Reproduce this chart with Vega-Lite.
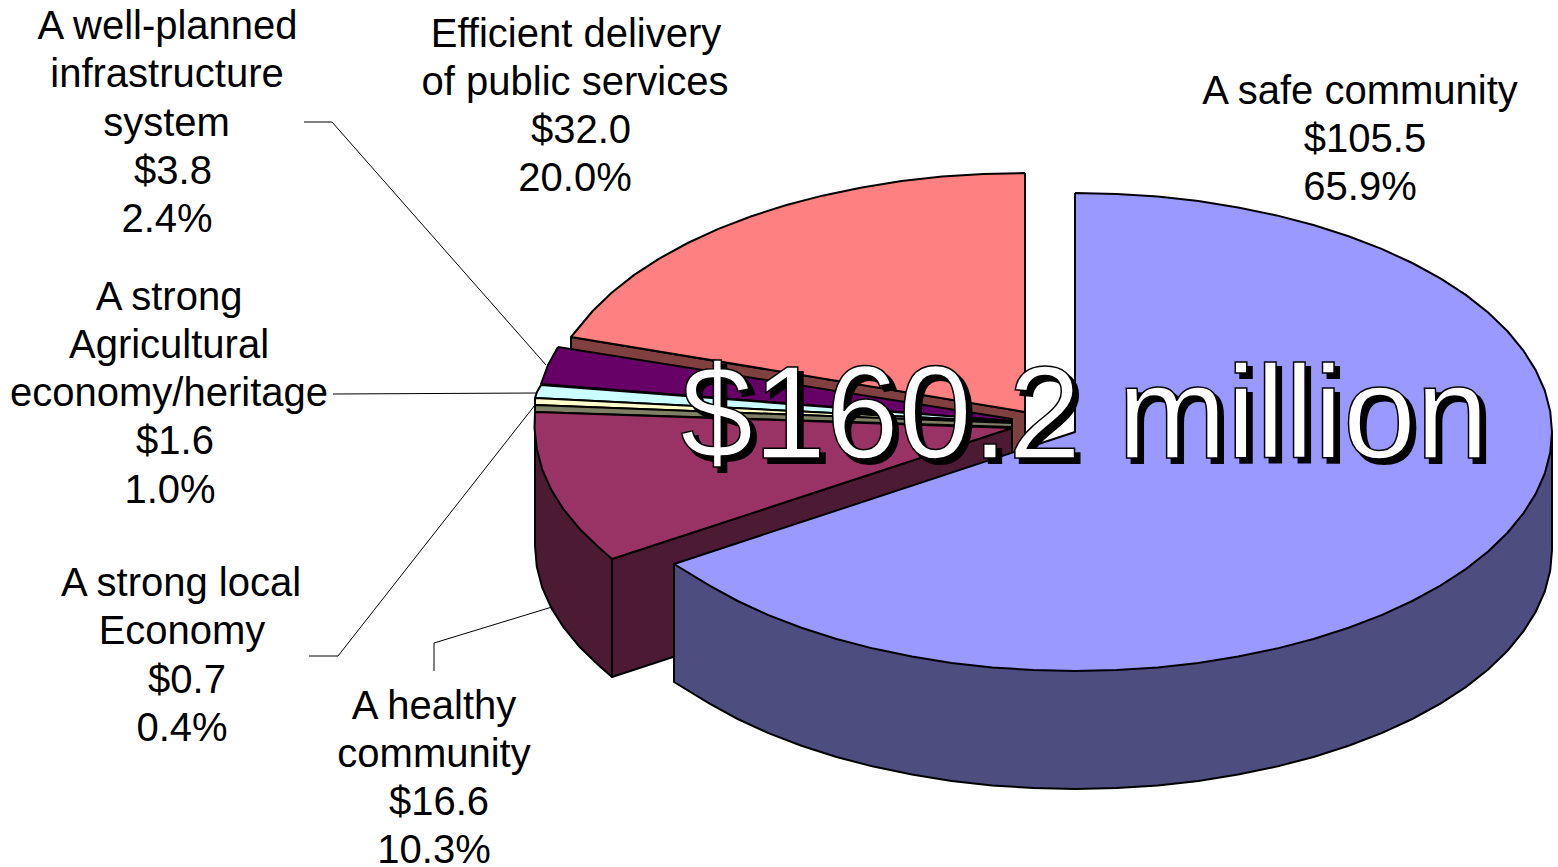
{"$schema":"https://vega.github.io/schema/vega-lite/v6.json","width":1558,"height":867,"padding":0,"autosize":{"type":"none"},"background":"white","view":{"stroke":null},
"datasets":{
"faces":[
{"p":"services wall","i":0,"x":571,"y":337},{"p":"services wall","i":1,"x":1025,"y":412},{"p":"services wall","i":2,"x":1025,"y":530},{"p":"services wall","i":3,"x":571,"y":455},{"p":"services wall","i":4,"x":571,"y":337},
{"p":"services","i":0,"x":1025,"y":173},{"p":"services","i":1,"x":983.4,"y":173.9},{"p":"services","i":2,"x":942.2,"y":176.6},{"p":"services","i":3,"x":901.6,"y":181.1},{"p":"services","i":4,"x":861.9,"y":187.4},{"p":"services","i":5,"x":823.4,"y":195.4},{"p":"services","i":6,"x":786.5,"y":205},{"p":"services","i":7,"x":751.4,"y":216.2},{"p":"services","i":8,"x":718.4,"y":228.9},{"p":"services","i":9,"x":687.7,"y":243},{"p":"services","i":10,"x":659.6,"y":258.4},{"p":"services","i":11,"x":634.2,"y":274.9},{"p":"services","i":12,"x":611.9,"y":292.5},{"p":"services","i":13,"x":592.7,"y":311},{"p":"services","i":14,"x":571,"y":337},{"p":"services","i":15,"x":1025,"y":412},{"p":"services","i":16,"x":1025,"y":173},
{"p":"infrastructure","i":0,"x":558,"y":347},{"p":"infrastructure","i":1,"x":548,"y":365},{"p":"infrastructure","i":2,"x":541,"y":384},{"p":"infrastructure","i":3,"x":1012,"y":421},{"p":"infrastructure","i":4,"x":1012,"y":419},{"p":"infrastructure","i":5,"x":558,"y":347},
{"p":"agriculture","i":0,"x":541,"y":385},{"p":"agriculture","i":1,"x":537,"y":392},{"p":"agriculture","i":2,"x":535,"y":398},{"p":"agriculture","i":3,"x":1012,"y":422},{"p":"agriculture","i":4,"x":1012,"y":421},{"p":"agriculture","i":5,"x":541,"y":385},
{"p":"economy","i":0,"x":535,"y":398},{"p":"economy","i":1,"x":535,"y":405},{"p":"economy","i":2,"x":1012,"y":423},{"p":"economy","i":3,"x":1012,"y":422},{"p":"economy","i":4,"x":535,"y":398},
{"p":"economy wall","i":0,"x":535,"y":405},{"p":"economy wall","i":1,"x":535,"y":412},{"p":"economy wall","i":2,"x":1012,"y":427},{"p":"economy wall","i":3,"x":1012,"y":423},{"p":"economy wall","i":4,"x":535,"y":405},
{"p":"healthy rim","i":0,"x":535,"y":428},{"p":"healthy rim","i":1,"x":535,"y":546},{"p":"healthy rim","i":2,"x":536.8,"y":566.8},{"p":"healthy rim","i":3,"x":542.2,"y":587.5},{"p":"healthy rim","i":4,"x":551.3,"y":607.9},{"p":"healthy rim","i":5,"x":563.8,"y":627.7},{"p":"healthy rim","i":6,"x":579.7,"y":647},{"p":"healthy rim","i":7,"x":598.9,"y":665.5},{"p":"healthy rim","i":8,"x":612,"y":677},{"p":"healthy rim","i":9,"x":612,"y":559},
{"p":"healthy wall","i":0,"x":612,"y":559},{"p":"healthy wall","i":1,"x":612,"y":677},{"p":"healthy wall","i":2,"x":1012,"y":546},{"p":"healthy wall","i":3,"x":1012,"y":428},{"p":"healthy wall","i":4,"x":612,"y":559},
{"p":"healthy","i":0,"x":535,"y":412},{"p":"healthy","i":1,"x":534.5,"y":428},{"p":"healthy","i":2,"x":536.8,"y":448.8},{"p":"healthy","i":3,"x":542.2,"y":469.5},{"p":"healthy","i":4,"x":551.3,"y":489.9},{"p":"healthy","i":5,"x":563.8,"y":509.7},{"p":"healthy","i":6,"x":579.7,"y":529},{"p":"healthy","i":7,"x":598.9,"y":547.5},{"p":"healthy","i":8,"x":612,"y":559},{"p":"healthy","i":9,"x":1012,"y":428},{"p":"healthy","i":10,"x":535,"y":412},
{"p":"safe rim","i":0,"x":674,"y":564},{"p":"safe rim","i":1,"x":674,"y":682},{"p":"safe rim","i":2,"x":709.6,"y":703.6},{"p":"safe rim","i":3,"x":737.7,"y":719},{"p":"safe rim","i":4,"x":768.4,"y":733.1},{"p":"safe rim","i":5,"x":801.4,"y":745.8},{"p":"safe rim","i":6,"x":836.5,"y":757},{"p":"safe rim","i":7,"x":873.4,"y":766.6},{"p":"safe rim","i":8,"x":911.9,"y":774.6},{"p":"safe rim","i":9,"x":951.6,"y":780.9},{"p":"safe rim","i":10,"x":992.2,"y":785.4},{"p":"safe rim","i":11,"x":1033.4,"y":788.1},{"p":"safe rim","i":12,"x":1075,"y":789},{"p":"safe rim","i":13,"x":1116.6,"y":788.1},{"p":"safe rim","i":14,"x":1157.8,"y":785.4},{"p":"safe rim","i":15,"x":1198.4,"y":780.9},{"p":"safe rim","i":16,"x":1238.1,"y":774.6},{"p":"safe rim","i":17,"x":1276.6,"y":766.6},{"p":"safe rim","i":18,"x":1313.5,"y":757},{"p":"safe rim","i":19,"x":1348.6,"y":745.8},{"p":"safe rim","i":20,"x":1381.6,"y":733.1},{"p":"safe rim","i":21,"x":1412.3,"y":719},{"p":"safe rim","i":22,"x":1440.4,"y":703.6},{"p":"safe rim","i":23,"x":1465.8,"y":687.1},{"p":"safe rim","i":24,"x":1488.1,"y":669.5},{"p":"safe rim","i":25,"x":1507.3,"y":651},{"p":"safe rim","i":26,"x":1523.2,"y":631.7},{"p":"safe rim","i":27,"x":1535.7,"y":611.9},{"p":"safe rim","i":28,"x":1544.8,"y":591.5},{"p":"safe rim","i":29,"x":1550.2,"y":570.8},{"p":"safe rim","i":30,"x":1552,"y":550},{"p":"safe rim","i":31,"x":1552,"y":432},
{"p":"safe","i":0,"x":1075,"y":193},{"p":"safe","i":1,"x":1116.6,"y":193.9},{"p":"safe","i":2,"x":1157.8,"y":196.6},{"p":"safe","i":3,"x":1198.4,"y":201.1},{"p":"safe","i":4,"x":1238.1,"y":207.4},{"p":"safe","i":5,"x":1276.6,"y":215.4},{"p":"safe","i":6,"x":1313.5,"y":225},{"p":"safe","i":7,"x":1348.6,"y":236.2},{"p":"safe","i":8,"x":1381.6,"y":248.9},{"p":"safe","i":9,"x":1412.3,"y":263},{"p":"safe","i":10,"x":1440.4,"y":278.4},{"p":"safe","i":11,"x":1465.8,"y":294.9},{"p":"safe","i":12,"x":1488.1,"y":312.5},{"p":"safe","i":13,"x":1507.3,"y":331},{"p":"safe","i":14,"x":1523.2,"y":350.3},{"p":"safe","i":15,"x":1535.7,"y":370.1},{"p":"safe","i":16,"x":1544.8,"y":390.5},{"p":"safe","i":17,"x":1550.2,"y":411.2},{"p":"safe","i":18,"x":1552,"y":432},{"p":"safe","i":19,"x":1550.2,"y":452.8},{"p":"safe","i":20,"x":1544.8,"y":473.5},{"p":"safe","i":21,"x":1535.7,"y":493.9},{"p":"safe","i":22,"x":1523.2,"y":513.7},{"p":"safe","i":23,"x":1507.3,"y":533},{"p":"safe","i":24,"x":1488.1,"y":551.5},{"p":"safe","i":25,"x":1465.8,"y":569.1},{"p":"safe","i":26,"x":1440.4,"y":585.6},{"p":"safe","i":27,"x":1412.3,"y":601},{"p":"safe","i":28,"x":1381.6,"y":615.1},{"p":"safe","i":29,"x":1348.6,"y":627.8},{"p":"safe","i":30,"x":1313.5,"y":639},{"p":"safe","i":31,"x":1276.6,"y":648.6},{"p":"safe","i":32,"x":1238.1,"y":656.6},{"p":"safe","i":33,"x":1198.4,"y":662.9},{"p":"safe","i":34,"x":1157.8,"y":667.4},{"p":"safe","i":35,"x":1116.6,"y":670.1},{"p":"safe","i":36,"x":1075,"y":671},{"p":"safe","i":37,"x":1033.4,"y":670.1},{"p":"safe","i":38,"x":992.2,"y":667.4},{"p":"safe","i":39,"x":951.6,"y":662.9},{"p":"safe","i":40,"x":911.9,"y":656.6},{"p":"safe","i":41,"x":873.4,"y":648.6},{"p":"safe","i":42,"x":836.5,"y":639},{"p":"safe","i":43,"x":801.4,"y":627.8},{"p":"safe","i":44,"x":768.4,"y":615.1},{"p":"safe","i":45,"x":737.7,"y":601},{"p":"safe","i":46,"x":709.6,"y":585.6},{"p":"safe","i":47,"x":674,"y":564},{"p":"safe","i":48,"x":1075,"y":432},{"p":"safe","i":49,"x":1075,"y":193}
],
"leaders":[
{"l":"a","i":0,"x":304,"y":122},{"l":"a","i":1,"x":332,"y":122},{"l":"a","i":2,"x":546,"y":365},
{"l":"b","i":0,"x":333,"y":394},{"l":"b","i":1,"x":537,"y":393},
{"l":"c","i":0,"x":309,"y":656},{"l":"c","i":1,"x":338,"y":656},{"l":"c","i":2,"x":535,"y":405},
{"l":"d","i":0,"x":434,"y":671},{"l":"d","i":1,"x":434,"y":643},{"l":"d","i":2,"x":552,"y":607}
],
"labels":[
{"t":"A well-planned","x":167.5,"y":39},{"t":"infrastructure","x":167,"y":87},{"t":"system","x":166.5,"y":136},{"t":"$3.8","x":173,"y":184},{"t":"2.4%","x":167,"y":232},
{"t":"Efficient delivery","x":576,"y":47},{"t":"of public services","x":575,"y":95},{"t":"$32.0","x":581,"y":143},{"t":"20.0%","x":575,"y":191},
{"t":"A safe community","x":1360,"y":104},{"t":"$105.5","x":1365,"y":152},{"t":"65.9%","x":1360,"y":200},
{"t":"A strong","x":169,"y":310},{"t":"Agricultural","x":169,"y":358},{"t":"economy/heritage","x":169,"y":406},{"t":"$1.6","x":175,"y":454},{"t":"1.0%","x":170,"y":503},
{"t":"A strong local","x":181,"y":596},{"t":"Economy","x":182,"y":644},{"t":"$0.7","x":187,"y":693},{"t":"0.4%","x":182,"y":741},
{"t":"A healthy","x":434,"y":719},{"t":"community","x":434,"y":767},{"t":"$16.6","x":439,"y":815},{"t":"10.3%","x":434,"y":863}
],
"total":[{"t":"$160.2 million","x":1084.5,"y":458}]
},
"layer":[
{"data":{"name":"leaders"},"mark":{"type":"line","stroke":"black","strokeWidth":1,"interpolate":"linear"},"encoding":{"x":{"field":"x","type":"quantitative","scale":{"domain":[0,1558],"nice":false,"zero":false},"axis":null},"y":{"field":"y","type":"quantitative","scale":{"domain":[867,0],"nice":false,"zero":false},"axis":null},"detail":{"field":"l"},"order":{"field":"i"}}},
{"data":{"name":"faces"},"mark":{"type":"line","stroke":"black","strokeWidth":2,"strokeJoin":"round"},"encoding":{"x":{"field":"x","type":"quantitative","axis":null},"y":{"field":"y","type":"quantitative","axis":null},"fill":{"field":"p","type":"nominal","legend":null,"scale":{"domain":["services wall","services","infrastructure","agriculture","economy","economy wall","healthy rim","healthy wall","healthy","safe rim","safe"],"range":["#804040","#ff8080","#660066","#ccffff","#ffffcc","#808066","#4d1a33","#4d1a33","#993366","#4d4d80","#9999ff"]}},"order":{"field":"i"}}},
{"data":{"name":"labels"},"mark":{"type":"text","font":"Liberation Sans","fontSize":40,"align":"center","baseline":"alphabetic","fill":"black"},"encoding":{"x":{"field":"x","type":"quantitative","axis":null},"y":{"field":"y","type":"quantitative","axis":null},"text":{"field":"t"}}},
{"data":{"name":"total"},"mark":{"type":"text","font":"Liberation Sans","fontSize":131,"align":"center","baseline":"alphabetic","fill":"black","stroke":"black","strokeWidth":2,"dx":5,"dy":5},"encoding":{"x":{"field":"x","type":"quantitative","axis":null},"y":{"field":"y","type":"quantitative","axis":null},"text":{"field":"t"}}},
{"data":{"name":"total"},"mark":{"type":"text","font":"Liberation Sans","fontSize":131,"align":"center","baseline":"alphabetic","fill":"white","stroke":"black","strokeWidth":1.5},"encoding":{"x":{"field":"x","type":"quantitative","axis":null},"y":{"field":"y","type":"quantitative","axis":null},"text":{"field":"t"}}}
]}
